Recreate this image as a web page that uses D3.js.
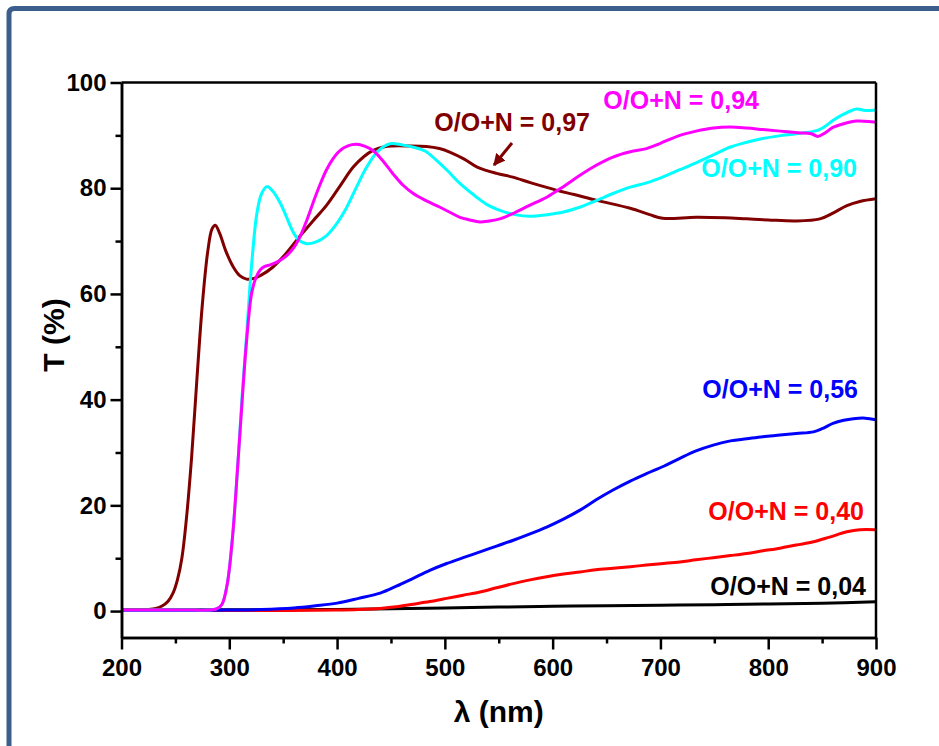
<!DOCTYPE html>
<html>
<head>
<meta charset="utf-8">
<script src="https://cdn.jsdelivr.net/npm/d3@7"></script>
<style>
  html, body { margin: 0; padding: 0; background: #fff; }
  svg { display: block; }
  text { font-family: "Liberation Sans", Arial, sans-serif; font-weight: bold; }
</style>
</head>
<body>
<svg id="chart" width="939" height="746"></svg>
<script>
// ---- data (λ in nm, T in %) ----
const s097 = [[200,0.3],[215,0.3],[225,0.3],[232,0.5],[238,1],[243,1.8],[248,3.5],[252,6],[256,10],[260,17],[265,29],[270,44],[275,58],[280,68],[284,72.3],[287,73],[291,71.5],[297,68],[304,65],[310,63.4],[316,62.8],[322,62.9],[330,63.6],[340,65],[352,67.5],[365,70.8],[378,73.9],[390,76.7],[403,80.5],[415,84],[425,86],[433,87.1],[445,87.9],[452,88],[465,88],[483,87.9],[495,87.5],[505,86.8],[518,85.5],[530,84],[548,82.8],[563,82.1],[580,81],[604,79.6],[620,78.8],[641,77.7],[672,76.2],[690,75],[702,74.3],[733,74.5],[760,74.4],[780,74.2],[800,74],[826,73.8],[848,74.2],[860,75.3],[873,76.7],[885,77.5],[900,78]];
const s090 = [[200,0.2],[260,0.2],[280,0.2],[288,0.4],[293,1.2],[298,5],[303,14],[308,28],[312,41],[316,52],[319,61],[322,68.5],[325.4,75],[330,79],[335,80.3],[340,79.5],[347,77.3],[353,74.6],[359,71.8],[365,70.1],[372,69.5],[380,69.8],[390,71],[400,73.4],[409,76.4],[418,80.2],[427.5,84],[438,87],[449,88.4],[460,88.2],[470,87.8],[482,87],[492,85.3],[503,83.2],[514,80.9],[529.5,78.3],[540,76.8],[551,75.8],[565,75],[579,74.7],[595,75],[610,75.5],[625,76.4],[641,77.7],[656,79],[672,80.2],[687,81],[702,82.1],[718,83.5],[734,84.9],[750,86.4],[765,87.8],[780,88.7],[795,89.4],[810,89.9],[826,90.3],[845,90.9],[852,91.6],[860,92.8],[870,94],[882,95],[890,94.7],[900,94.8]];
const s094 = [[200,0.2],[260,0.2],[280,0.2],[288,0.4],[293,1.2],[298,5],[303,14],[308,28],[312,40],[316,51],[320.8,60.2],[325,63.2],[329,64.6],[333,65.2],[338,65.5],[345,66.1],[353,67.2],[360,68.8],[366,71],[372,74],[378,77.4],[384,80.6],[390,83.4],[396,85.5],[402.7,87.1],[410,88],[418,88.3],[426,87.9],[433.6,87.1],[442,85.3],[452,82.7],[461,80.6],[470.7,79],[483,77.6],[495.5,76.4],[505,75.4],[514,74.5],[523,74],[532.6,73.6],[541,73.8],[551,74.2],[563,75.2],[578,76.7],[594.5,78.3],[610,80.3],[625,82.4],[640,84.3],[656,85.9],[672,86.9],[687,87.5],[700,88.5],[718,90],[733,90.8],[749,91.4],[765,91.6],[780,91.4],[795,91.1],[811,90.8],[828,90.5],[840,90.3],[846,89.8],[853,90.5],[860,91.5],[870,92.2],[882,92.7],[900,92.5]];
const s056 = [[200,0.1],[250,0.1],[300,0.2],[330,0.3],[360,0.6],[380,1],[400,1.5],[420,2.4],[440,3.4],[455,4.7],[470.6,6.2],[486,7.7],[501.7,9],[517,10.1],[532.6,11.2],[548,12.3],[563.5,13.4],[579,14.6],[594.5,15.9],[610,17.4],[625.4,19.1],[640,21],[656,22.9],[672,24.6],[687,26],[703,27.4],[718,28.9],[733,30.3],[749,31.4],[765,32.2],[780,32.6],[795,33],[811,33.3],[826,33.6],[842,33.9],[850,34.5],[860,35.5],[870,36.1],[879,36.4],[890,36.5],[900,36.2]];
const s040 = [[200,0.1],[275,0.1],[350,0.1],[400,0.2],[420,0.3],[440,0.5],[455,0.8],[470.7,1.3],[486,1.8],[501.7,2.4],[517,3],[532.6,3.6],[548,4.4],[563.5,5.2],[579,5.9],[594.5,6.5],[610,7],[625.4,7.4],[640,7.8],[656,8.1],[672,8.4],[687,8.7],[703,9],[718,9.3],[733,9.7],[749,10.1],[765,10.5],[780,10.9],[795,11.4],[811,11.9],[826,12.5],[842,13.1],[857,14],[873,15],[885,15.4],[900,15.4]];
const s004 = [[200,0.2],[300,0.25],[400,0.3],[450,0.45],[500,0.6],[550,0.75],[600,0.9],[650,1.0],[700,1.1],[750,1.2],[800,1.35],[850,1.5],[900,1.75]];

const seriesNames = ["0,04", "0,40", "0,56", "0,90", "0,94", "0,97"];
const seriesData  = [s004, s040, s056, s090, s094, s097];
const seriesColors = ["#000000", "#ff0000", "#0000ff", "#00ffff", "#ff00ff", "#800000"];
const xTicks = [200, 300, 400, 500, 600, 700, 800, 900];
const yTicks = [0, 20, 40, 60, 80, 100];
const xMinor = [250, 350, 450, 550, 650, 750, 850];
const yMinor = [10, 30, 50, 70, 90];
const xTitle = "λ (nm)";
const yTitle = "T (%)";

// ---- layout ----
const L = 121.5, R = 876, T = 82.5, B = 637.5;
const svg = d3.select("#chart");
svg.append("rect").attr("width", 939).attr("height", 746).attr("fill", "#fff");

// page frame
svg.append("path")
  .attr("d", "M9,746 L9,14 Q9,8.5 14.5,8.5 L939,8.5")
  .attr("fill", "none").attr("stroke", "#3b5e8c").attr("stroke-width", 5);

const x = d3.scaleLinear().domain([200, 900]).range([L, R]);
const y = d3.scaleLinear().domain([-5, 100]).range([B, T]);

// curves (draw order: low first)
const line = d3.line().x(d => x(d[0])).y(d => y(d[1])).curve(d3.curveCatmullRom.alpha(0.5));
const order = [0, 1, 2, 5, 3, 4];
order.forEach(i => {
  svg.append("path").datum(seriesData[i])
    .attr("d", line)
    .attr("fill", "none")
    .attr("stroke", seriesColors[i])
    .attr("stroke-width", 3)
    .attr("stroke-linejoin", "round");
});

// frame top/right
svg.append("line").attr("x1", L).attr("x2", R).attr("y1", T).attr("y2", T)
  .attr("stroke", "#000").attr("stroke-width", 2.5);
svg.append("line").attr("x1", R).attr("x2", R).attr("y1", T).attr("y2", B)
  .attr("stroke", "#000").attr("stroke-width", 2.5);

// axes
const xAxis = svg.append("g").attr("transform", `translate(0,${B})`)
  .call(d3.axisBottom(x).tickValues(xTicks).tickSize(12).tickSizeOuter(0).tickPadding(9));
const xAxisMinor = svg.append("g").attr("transform", `translate(0,${B})`)
  .call(d3.axisBottom(x).tickValues(xMinor).tickSize(6).tickSizeOuter(0).tickFormat(""));
const yAxis = svg.append("g").attr("transform", `translate(${L},0)`)
  .call(d3.axisLeft(y).tickValues(yTicks).tickSize(11).tickSizeOuter(0).tickPadding(4));
const yAxisMinor = svg.append("g").attr("transform", `translate(${L},0)`)
  .call(d3.axisLeft(y).tickValues(yMinor).tickSize(6).tickSizeOuter(0).tickFormat(""));

[xAxis, xAxisMinor, yAxis, yAxisMinor].forEach(g => {
  g.select(".domain").attr("stroke", "#000").attr("stroke-width", 2.5);
  g.selectAll(".tick line").attr("stroke", "#000").attr("stroke-width", 2.5);
  g.selectAll(".tick text").attr("fill", "#000")
    .style("font-family", '"Liberation Sans", Arial, sans-serif')
    .style("font-weight", "bold").style("font-size", "24px");
});

// axis titles
svg.append("text").attr("x", (L + R) / 2).attr("y", 722)
  .attr("text-anchor", "middle").style("font-size", "30px").text(xTitle);
svg.append("text").attr("transform", "translate(64,335) rotate(-90)")
  .attr("text-anchor", "middle").style("font-size", "30px").text(yTitle);

// series labels
const labelPos = [[866, 595], [864, 520], [858, 398], [857, 177], [759, 109], [590, 131]];
seriesNames.forEach((n, i) => {
  svg.append("text").attr("x", labelPos[i][0]).attr("y", labelPos[i][1])
    .attr("text-anchor", "end").attr("fill", seriesColors[i])
    .style("font-size", "25px").text("O/O+N = " + n);
});

// arrow for 0,97
svg.append("defs").append("marker").attr("id", "ah")
  .attr("viewBox", "0 0 10 10").attr("refX", 9).attr("refY", 5)
  .attr("markerWidth", 4).attr("markerHeight", 4).attr("orient", "auto")
  .append("path").attr("d", "M0,0 L10,5 L0,10 z").attr("fill", "#800000");
svg.append("line").attr("x1", 512).attr("y1", 143).attr("x2", 494).attr("y2", 165)
  .attr("stroke", "#800000").attr("stroke-width", 3).attr("marker-end", "url(#ah)");
</script>
</body>
</html>
